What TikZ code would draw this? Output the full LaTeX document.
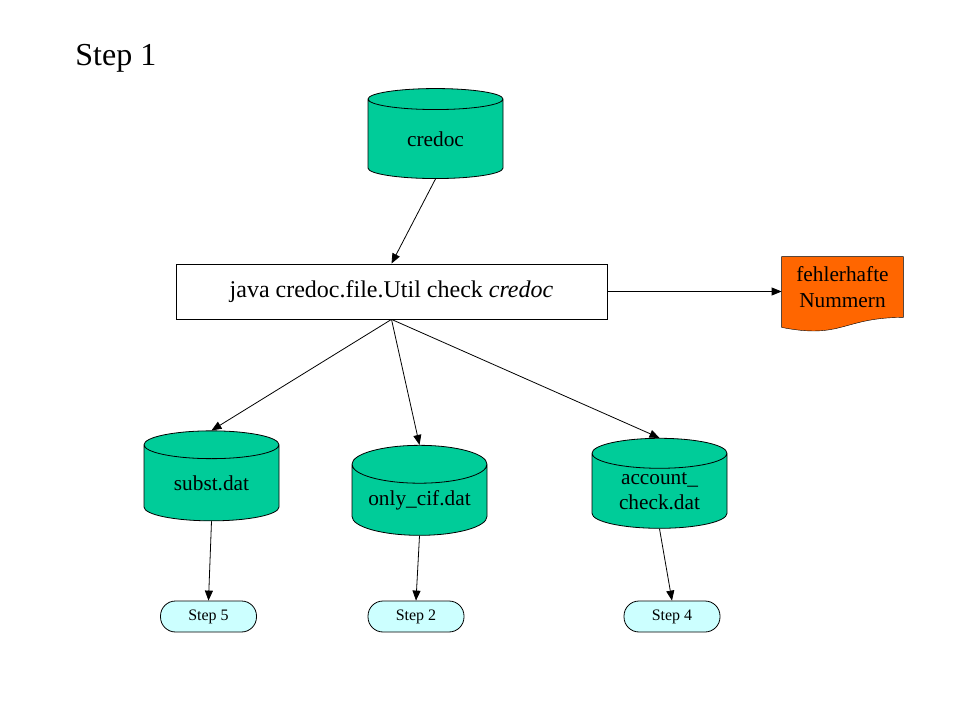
\documentclass[tikz,border=0pt]{standalone}
\usepackage{fontspec}
\setmainfont{Liberation Serif}
\usetikzlibrary{shapes.geometric,arrows.meta,backgrounds,calc}

\definecolor{dbgreen}{RGB}{0,204,153}
\definecolor{docorange}{RGB}{255,102,0}
\definecolor{steplight}{RGB}{204,255,255}

\tikzset{
  db/.style={cylinder, shape border rotate=90, aspect=0.37, draw, fill=dbgreen,
    minimum width=135, minimum height=90, align=center, inner sep=0pt,
    font=\fontsize{21.3}{25.5}\selectfont},
  stepnode/.style={draw, rounded corners=15, fill=steplight, minimum width=96,
    minimum height=31, inner sep=0pt, font=\fontsize{16}{19}\selectfont},
  flow/.style={-{Triangle[length=10pt,width=8pt]}},
}

\begin{document}
\begin{tikzpicture}[x=1pt,y=-1pt,line width=0.8pt]
\useasboundingbox (0,0) rectangle (959,719);
\node[anchor=west,inner sep=0pt,font=\fontsize{32}{38}\selectfont] (title) at (75,58) {Step 1};
% databases
\node[db] (credoc) at (435.5,139) {credoc};
\node[db] (subst) at (211.5,483) {subst.dat};
\node[db] (onlycif) at (419.5,500) {only\_cif.dat};
\node[db] (account) at (659.5,491) {account\_\\check.dat};
% program
\node[draw,fill=white,minimum width=431,minimum height=55,inner sep=0pt,
  font=\fontsize{24}{28}\selectfont] (util) at (391.5,291.5) {java credoc.file.Util check \textit{credoc}};
% error document
\node[minimum width=121,minimum height=60,inner sep=0pt,align=center,
  font=\fontsize{21.3}{25.5}\selectfont] (fehler) at (842.5,287) {fehlerhafte\\Nummern};
\begin{scope}[on background layer]
\filldraw[fill=docorange] (fehler.north west) -- (fehler.north east) -- (fehler.south east)
  .. controls (fehler.south) and ($(fehler.south)+(0,22)$) .. ($(fehler.south west)+(0,10)$) -- cycle;
\end{scope}
% next steps
\node[stepnode] (step5) at (208.5,616.5) {Step 5};
\node[stepnode] (step2) at (416,616.5) {Step 2};
\node[stepnode] (step4) at (672,616.5) {Step 4};
% arrows
\draw[flow] (credoc.south) -- (util.north);
\draw[flow] (util.east) -- (util.east -| fehler.west);
\draw[flow] (util.south) -- (subst.north);
\draw[flow] (util.south) -- (onlycif.north);
\draw[flow] (util.south) -- (account.north);
\draw[flow] (subst.south) -- (step5.north);
\draw[flow] (onlycif.south) -- (step2.north);
\draw[flow] (account.south) -- (step4.north);
\end{tikzpicture}
\end{document}
